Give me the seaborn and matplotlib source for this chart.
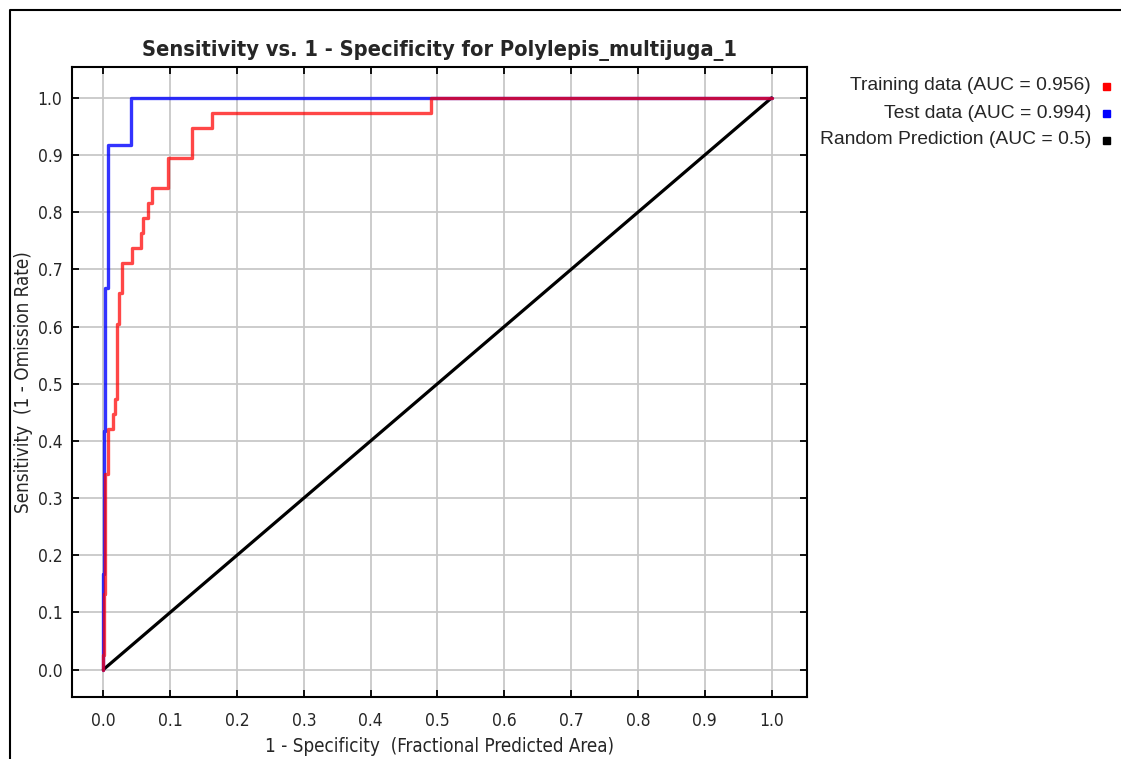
import matplotlib

matplotlib.use("Agg")
import matplotlib.pyplot as plt
import pandas as pd
import seaborn as sns
from matplotlib.lines import Line2D
from matplotlib.patches import Rectangle

# ROC curve corner points (fractional predicted area vs sensitivity)
train_x = [0.0, 0.0, 0.001, 0.001, 0.003, 0.003, 0.007, 0.007, 0.014, 0.014, 0.017, 0.017,
           0.021, 0.021, 0.024, 0.024, 0.028, 0.028, 0.043, 0.043, 0.056, 0.056, 0.059, 0.059,
           0.066, 0.066, 0.073, 0.073, 0.096, 0.096, 0.133, 0.133, 0.163, 0.163, 0.49, 0.49, 1.0]
train_y = [0.0, 0.026, 0.026, 0.132, 0.132, 0.342, 0.342, 0.421, 0.421, 0.447, 0.447, 0.474,
           0.474, 0.605, 0.605, 0.658, 0.658, 0.711, 0.711, 0.737, 0.737, 0.763, 0.763, 0.789,
           0.789, 0.816, 0.816, 0.842, 0.842, 0.895, 0.895, 0.947, 0.947, 0.974, 0.974, 1.0, 1.0]

test_x = [0.0, 0.0, 0.001, 0.001, 0.003, 0.003, 0.0065, 0.0065, 0.042, 0.042, 1.0]
test_y = [0.0, 0.167, 0.167, 0.417, 0.417, 0.667, 0.667, 0.917, 0.917, 1.0, 1.0]

random_x = [0.0, 1.0]
random_y = [0.0, 1.0]

legend_labels = ["Training data (AUC = 0.956)", "Test data (AUC = 0.994)",
                 "Random Prediction (AUC = 0.5)"]
legend_colors = ["#ff0000", "#0000ff", "#000000"]
ticks = [i / 10 for i in range(11)]

NARROW = dict(family=["DejaVu Sans", "Liberation Sans"], fontstretch="condensed")


def main() -> None:
    sns.set_theme(style="white")
    plt.rcParams["font.family"] = ["Liberation Sans", "DejaVu Sans"]

    fig = plt.figure(figsize=(11.21, 7.59), dpi=100)
    W, H = 1121, 759
    ax = fig.add_axes([72 / W, 1 - 697 / H, (807 - 72) / W, (697 - 67) / H])

    train = pd.DataFrame({"x": train_x, "y": train_y})
    test = pd.DataFrame({"x": test_x, "y": test_y})
    rand = pd.DataFrame({"x": random_x, "y": random_y})

    sns.lineplot(data=rand, x="x", y="y", sort=False, estimator=None, color="black",
                 linewidth=2.3, ax=ax, zorder=3)
    sns.lineplot(data=test, x="x", y="y", sort=False, estimator=None, color="#0000ff",
                 alpha=0.8, linewidth=2.4, ax=ax, zorder=4)
    sns.lineplot(data=train, x="x", y="y", sort=False, estimator=None, color="#ff0000",
                 alpha=0.72, linewidth=2.4, ax=ax, zorder=5)

    ax.set_xlim(-0.047, 1.053)
    ax.set_ylim(-0.048, 1.054)
    ax.set_xticks(ticks)
    ax.set_yticks(ticks)
    ax.set_xticklabels([f"{t:.1f}" for t in ticks], fontsize=12.5, **NARROW)
    ax.set_yticklabels([f"{t:.1f}" for t in ticks], fontsize=12.5, **NARROW)
    ax.grid(True, color="#c8c8c8", linewidth=1.3)
    ax.set_axisbelow(True)
    ax.tick_params(axis="both", direction="in", length=5, width=1.3, color="black",
                   top=True, right=True, bottom=True, left=True)
    ax.tick_params(axis="x", pad=11)
    ax.tick_params(axis="y", pad=7)
    for spine in ax.spines.values():
        spine.set_color("black")
        spine.set_linewidth(1.5)

    ax.set_title("Sensitivity vs. 1 - Specificity for Polylepis_multijuga_1",
                 fontsize=15.7, fontweight="bold", pad=8, **NARROW)
    ax.set_xlabel("1 - Specificity  (Fractional Predicted Area)", fontsize=13.5,
                  labelpad=5, **NARROW)
    ax.set_ylabel("Sensitivity  (1 - Omission Rate)", fontsize=13.5, labelpad=3, **NARROW)

    # legend drawn at the right, text right-aligned with small square markers
    for i, (label, color) in enumerate(zip(legend_labels, legend_colors)):
        ypx = 86 + i * 27
        fig.text(1091 / W, 1 - ypx / H, label, ha="right", va="center", fontsize=13.9)
        fig.add_artist(Rectangle((1103 / W, 1 - (ypx + 4) / H), 7 / W, 7 / H,
                                 transform=fig.transFigure, color=color))

    # outer panel frame
    fig.add_artist(Line2D([10 / W, 10 / W, 1.0], [0.0, 1 - 10 / H, 1 - 10 / H],
                          transform=fig.transFigure, color="black", linewidth=1.5))

    fig.savefig("out.png", dpi=100)
    plt.close(fig)


if __name__ == "__main__":
    main()
